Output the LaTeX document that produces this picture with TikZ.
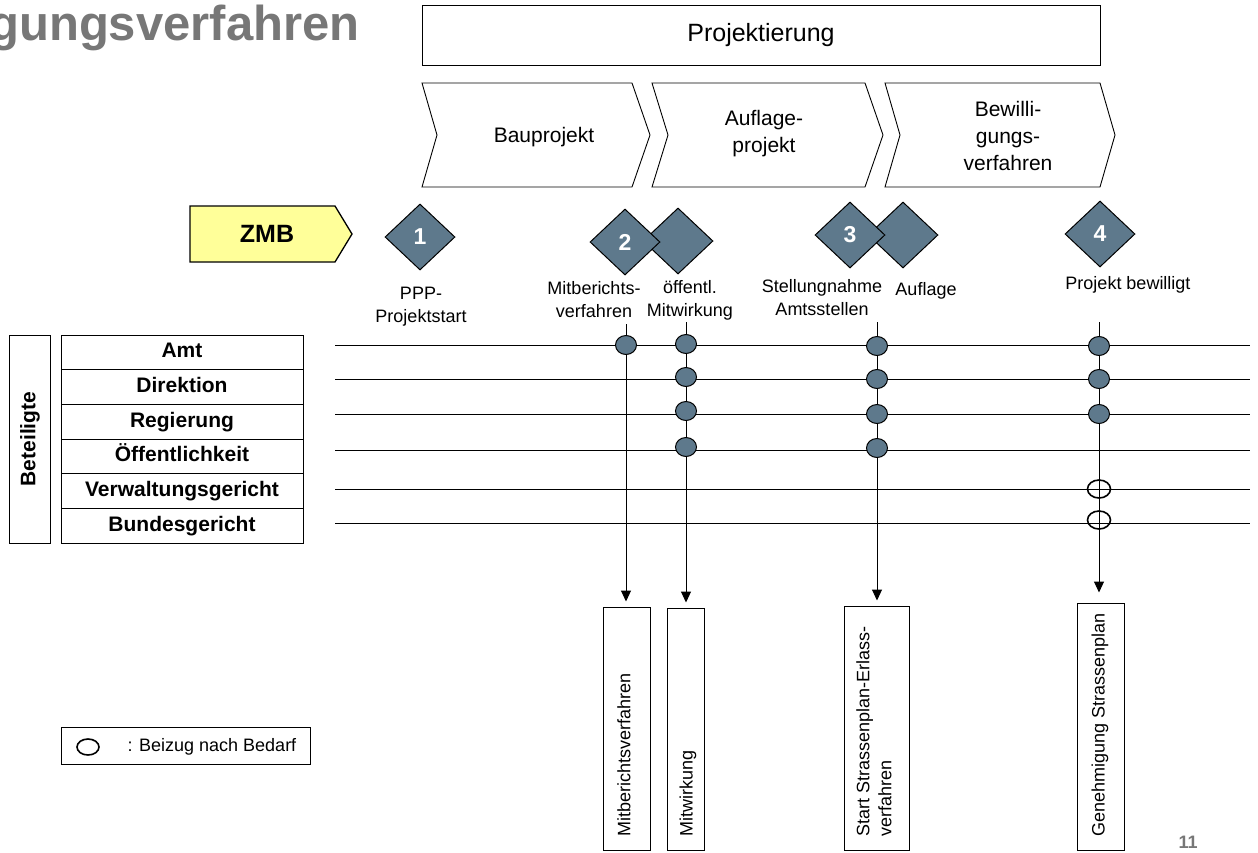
\documentclass[tikz,border=0pt]{standalone}
\usepackage{fontspec}
\setmainfont{Liberation Sans}
\usetikzlibrary{shapes.geometric,arrows.meta}
\definecolor{slate}{RGB}{94,121,140}
\definecolor{zmbyellow}{RGB}{255,255,153}
\definecolor{titlegray}{RGB}{119,119,119}
\begin{document}
\begin{tikzpicture}[x=1pt,y=-1pt, line width=1pt,
  lbl/.style={font=\fontsize{18}{23}\selectfont, align=center, inner sep=0},
  chev/.style={draw, line width=0.9pt},
  chevtext/.style={font=\fontsize{21}{27}\selectfont, align=center, inner sep=0},
  ms/.style={diamond, draw=black, line width=1pt, fill=slate, minimum width=70pt, minimum height=66pt, inner sep=0, text=white, font=\bfseries\fontsize{23}{23}\selectfont},
  rowbox/.style={draw, minimum width=242pt, minimum height=34.67pt, inner sep=0, text height=15pt, text depth=4pt, font=\bfseries\fontsize{21}{21}\selectfont},
  dot/.style={ellipse, draw=black, line width=1pt, fill=slate, minimum width=21pt, minimum height=19pt, inner sep=0},
  odot/.style={ellipse, draw=black, line width=1.6pt, minimum width=23pt, minimum height=18pt, inner sep=0},
  resbox/.style={draw, inner sep=0},
  restext/.style={rotate=90, anchor=west, align=left, inner sep=0, font=\fontsize{18}{22}\selectfont},
  arr/.style={-{Triangle[length=11pt,width=10pt]}, line width=1pt}
]
\useasboundingbox (0,0) rectangle (1258,852);

% title
\node[anchor=base east, text=titlegray, font=\bfseries\fontsize{49}{49}\selectfont, inner sep=0] (title) at (360,40) {gungsverfahren};

% Projektierung
\node[draw, line width=0.9pt, minimum width=678pt, minimum height=60pt, inner sep=0, font=\fontsize{25}{25}\selectfont] (proj) at (761,35) {Projektierung};

% chevrons
\draw[chev] (422,83) -- (632,83) -- (650,135) -- (632,187) -- (422,187) -- (437,135) -- cycle;
\draw[chev] (652,83) -- (865,83) -- (883,135) -- (865,187) -- (652,187) -- (668,135) -- cycle;
\draw[chev] (885,83) -- (1100,83) -- (1115,135) -- (1100,187) -- (885,187) -- (900,135) -- cycle;
\node[chevtext] (ch1) at (544,137) {Bauprojekt};
\node[chevtext] (ch2) at (764,134) {Auflage-\\projekt};
\node[chevtext] (ch3) at (1008,136) {Bewilli-\\gungs-\\verfahren};

% ZMB
\draw[line width=1.3pt, fill=zmbyellow] (190,206) -- (335,206) -- (352,234) -- (335,262) -- (190,262) -- cycle;
\node[font=\bfseries\fontsize{25}{25}\selectfont, inner sep=0] (zmb) at (267,234) {ZMB};

% milestones
\node[ms] (m1) at (420,237) {1};
\node[ms] (m2b) at (678,241) {};
\node[ms] (m2) at (625,242) {2};
\node[ms] (m3b) at (903,235) {};
\node[ms] (m3) at (850,235) {3};
\node[ms] (m4) at (1100,234) {4};

% milestone labels
\node[lbl] (l1) at (421,307) {PPP-\\Projektstart};
\node[lbl] (l2) at (594,300) {Mitberichts-\\verfahren};
\node[lbl] (l2b) at (690,300) {öffentl.\\Mitwirkung};
\node[lbl] (l3) at (822,298) {Stellungnahme\\Amtsstellen};
\node[lbl] (l3b) at (926,291) {Auflage};
\node[lbl] (l4) at (1128,285) {Projekt bewilligt};

% participants table
\node[draw, minimum width=41pt, minimum height=208pt, inner sep=0] (bet) at (30,439) {};
\node[rotate=90, font=\bfseries\fontsize{21}{21}\selectfont, inner sep=0] (bettext) at (bet) {Beteiligte};
\node[rowbox] (r1) at (182,352.33) {Amt};
\node[rowbox] (r2) at (182,387.00) {Direktion};
\node[rowbox] (r3) at (182,421.67) {Regierung};
\node[rowbox] (r4) at (182,456.33) {Öffentlichkeit};
\node[rowbox] (r5) at (182,491.00) {Verwaltungsgericht};
\node[rowbox] (r6) at (182,525.67) {Bundesgericht};

% horizontal lines
\foreach \i/\y in {1/345,2/379,3/414,4/450,5/489,6/523}{
  \coordinate (hs\i) at (335,\y);
  \coordinate (he\i) at (1250,\y);
  \draw (hs\i) -- (he\i);
}

% result boxes
\node[resbox, minimum width=47pt, minimum height=243pt] (rb1) at (626.5,728.5) {};
\node[resbox, minimum width=37pt, minimum height=242pt] (rb2) at (685.5,729) {};
\node[resbox, minimum width=65pt, minimum height=244pt] (rb3) at (876.5,728) {};
\node[resbox, minimum width=47pt, minimum height=247pt] (rb4) at (1100.5,726.5) {};
\node[restext] (t1) at (624,837) {Mitberichtsverfahren};
\node[restext] (t2) at (688,837) {Mitwirkung};
\node[restext] (t3) at (874,837) {Start Strassenplan-Erlass-\\verfahren};
\node[restext] (t4) at (1100,837) {Genehmigung Strassenplan};

% vertical connectors
\coordinate (v1) at (626,324);
\coordinate (v2) at (686,322);
\coordinate (v3) at (877,322);
\coordinate (v4) at (1099,322);
\draw[arr, shorten >=5pt] (v1) -- (v1 |- rb1.north);
\draw[arr, shorten >=5pt] (v2) -- (v2 |- rb2.north);
\draw[arr, shorten >=5pt] (v3) -- (v3 |- rb3.north);
\draw[arr, shorten >=10pt] (v4) -- (v4 |- rb4.north);

% dots
\node[dot] (d11) at (626,345) {};
\node[dot] (d21) at (686,344) {};
\node[dot] (d22) at (686,377) {};
\node[dot] (d23) at (686,411) {};
\node[dot] (d24) at (686,447) {};
\node[dot] (d31) at (877,346) {};
\node[dot] (d32) at (877,379) {};
\node[dot] (d33) at (877,414) {};
\node[dot] (d34) at (877,448) {};
\node[dot] (d41) at (1099,346) {};
\node[dot] (d42) at (1099,379) {};
\node[dot] (d43) at (1099,414) {};
\node[odot] (o45) at (1099,489) {};
\node[odot] (o46) at (1099,520) {};

% legend
\node[draw, minimum width=249pt, minimum height=37pt, inner sep=0] (leg) at (185.5,745.5) {};
\node[odot, minimum width=22pt, minimum height=16pt] (legc) at (88,747) {};
\node[anchor=west, inner sep=0, font=\fontsize{18}{18}\selectfont] (legt) at (127,747) {: Beizug nach Bedarf};

% page number
\node[text=titlegray, font=\bfseries\fontsize{18}{18}\selectfont, inner sep=0] (pg) at (1188,842) {11};
\end{tikzpicture}
\end{document}
